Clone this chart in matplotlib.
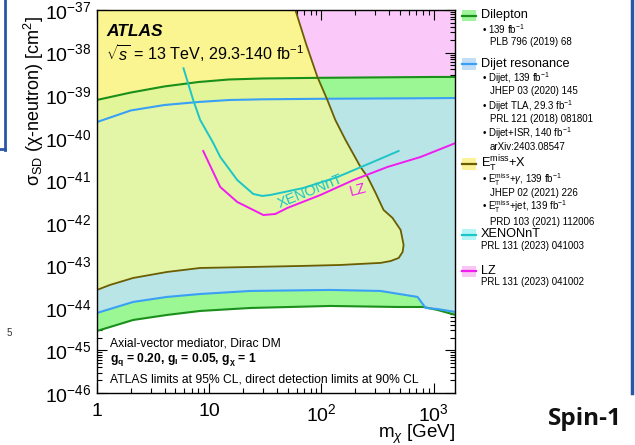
import numpy as np
import matplotlib
matplotlib.use("Agg")
import matplotlib.pyplot as plt
from matplotlib.patches import Polygon, Rectangle
from matplotlib.lines import Line2D
from matplotlib.ticker import LogLocator, NullFormatter

plt.rcParams["font.family"] = ["Liberation Sans", "DejaVu Sans"]
plt.rcParams["mathtext.fontset"] = "custom"
plt.rcParams["mathtext.rm"] = "Liberation Sans"
plt.rcParams["mathtext.it"] = "Liberation Sans:italic"
plt.rcParams["mathtext.bf"] = "Liberation Sans:bold"
plt.rcParams["mathtext.sf"] = "Liberation Sans"

# ---------------- limit curves (DM mass in GeV, sigma_SD in cm^2) ----------------
dilep_up_m = [1, 2, 4, 8, 15, 30, 100, 1000, 1550]
dilep_up_xs = [7.7e-40, 1.15e-39, 1.6e-39, 2.03e-39, 2.33e-39, 2.46e-39, 2.55e-39, 2.67e-39, 2.67e-39]

dilep_lo_m = [1, 2.1, 4.2, 8.3, 23.2, 120, 478, 812, 1085, 1571]
dilep_lo_xs = [2.87e-45, 5.2e-45, 6.82e-45, 8.47e-45, 9.95e-45, 1.11e-44, 1.05e-44, 1.05e-44, 8.93e-45, 6.82e-45]

dijet_up_m = [1, 2, 4, 8, 15, 30, 100, 1000, 1550]
dijet_up_xs = [2.33e-40, 4.36e-40, 5.86e-40, 6.89e-40, 7.67e-40, 7.97e-40, 8.2e-40, 8.47e-40, 8.55e-40]

dijet_lo_m = [1, 2.1, 4.2, 8.3, 23.2, 120, 335, 718, 848, 1085, 1571]
dijet_lo_xs = [7.6e-45, 1.38e-44, 1.81e-44, 2.12e-44, 2.5e-44, 2.64e-44, 2.5e-44, 1.81e-44, 9.95e-45, 9.4e-45, 8.0e-45]

met_m = [58.6, 73.5, 92.1, 113, 133, 164, 223, 258, 304, 358, 430, 508, 540,
         529, 488, 413, 336, 223, 148, 65, 23.2, 8.3, 4.2, 2.1, 1.3, 1.0]
met_xs = [1e-37, 1.51e-38, 2.67e-39, 7.67e-40, 2.6e-40, 8.81e-41, 2.05e-41, 1.19e-41,
          5.01e-42, 2.0e-42, 1.3e-42, 6.78e-43, 3.01e-43, 2.06e-43, 1.49e-43, 1.26e-43,
          1.14e-43, 1.08e-43, 1.02e-43, 9.66e-44, 9.14e-44, 8.67e-44, 6.98e-44, 5.05e-44,
          3.45e-44, 2.64e-44]

xenon_m = [5.9, 7.2, 8.31, 10.86, 12.54, 17.78, 24.7, 29.7, 35.1, 69.1, 139, 274, 487]
xenon_xs = [4.27e-39, 7.67e-40, 2.6e-40, 7.5e-41, 3.52e-41, 1.01e-41, 4.75e-42, 4.27e-42,
            4.5e-42, 6.57e-42, 1.19e-41, 2.54e-41, 4.86e-41]

lz_m = [8.84, 12.54, 17.78, 30.4, 38.8, 49.7, 98, 193, 388, 765, 1571]
lz_xs = [4.86e-41, 6.93e-42, 3.08e-42, 1.52e-42, 1.61e-42, 2.23e-42, 4.5e-42, 1.01e-41,
         2.05e-41, 3.52e-41, 7.5e-41]

xtick_vals = [1, 10, 100, 1000]
xtick_labels = ["1", "10", "$10^{2}$", "$10^{3}$"]

BULLET = "\u2022"
legend_entries = [
    ("Dilepton", [BULLET + " 139 fb$^{-1}$", "PLB 796 (2019) 68"]),
    ("Dijet resonance", [BULLET + " Dijet, 139 fb$^{-1}$", "JHEP 03 (2020) 145",
                         BULLET + " Dijet TLA, 29.3 fb$^{-1}$", "PRL 121 (2018) 081801",
                         BULLET + " Dijet+ISR, 140 fb$^{-1}$", "arXiv:2403.08547"]),
    (r"E$_{\rm T}^{\rm miss}$+X", [BULLET + r" E$_{\rm T}^{\rm miss}$+$\gamma$, 139 fb$^{-1}$",
                                   "JHEP 02 (2021) 226",
                                   BULLET + r" E$_{\rm T}^{\rm miss}$+jet, 139 fb$^{-1}$",
                                   "PRD 103 (2021) 112006"]),
    ("XENONnT", ["PRL 131 (2023) 041003"]),
    ("LZ", ["PRL 131 (2023) 041002"]),
]

# colours
pink_fill = "#fbc8fa"
green_fill = "#9af794"
blue_fill = "#b9e5e7"
yellow_fill = "#fbf591"
yellowgreen_fill = "#e2f598"
pale_fill = "#e3f5a6"
green_line = "#1a8f1a"
blue_line = "#3aa0f5"
olive_line = "#6b5e00"
cyan_line = "#1cc5c8"
magenta_line = "#f01cf0"

W, H = 635, 445
fig = plt.figure(figsize=(W / 100, H / 100), dpi=100)


def fpx(x, y):
    return x / W, 1 - y / H


ax = fig.add_axes([97 / W, 1 - 393 / H, (455 - 97) / W, (393 - 10) / H])
ax.set_xscale("log")
ax.set_yscale("log")
xmin, xmax = 1, 1550
ymin, ymax = 1e-46, 1e-37
ax.set_xlim(xmin, xmax)
ax.set_ylim(ymin, ymax)

# LZ excluded region above the collider bands
ax.fill_between(dilep_up_m, dilep_up_xs, ymax, color=pink_fill, lw=0, zorder=1)

# E_T^miss contour polygon (closed through the upper-left corner)
met_verts = list(zip(met_m, met_xs)) + [(xmin * 0.5, met_xs[-1]), (xmin * 0.5, ymax * 2), (met_m[0], ymax * 2)]
ax.add_patch(Polygon(met_verts, closed=True, facecolor="white", edgecolor="none", zorder=1.5))

# dilepton band
ax.fill(np.concatenate([dilep_up_m, dilep_lo_m[::-1]]),
        np.concatenate([dilep_up_xs, dilep_lo_xs[::-1]]),
        color=green_fill, lw=0, zorder=2)
# dijet band
ax.fill(np.concatenate([dijet_up_m, dijet_lo_m[::-1]]),
        np.concatenate([dijet_up_xs, dijet_lo_xs[::-1]]),
        color=blue_fill, lw=0, zorder=2.2)

# E_T^miss excluded region, shaded over the other bands
clip_poly = Polygon(met_verts, closed=True, transform=ax.transData)
zone_a = ax.fill_between(dilep_up_m, dilep_up_xs, ymax, color=yellow_fill, lw=0, zorder=2.5)
zone_b = ax.fill(np.concatenate([dilep_up_m, dijet_up_m[::-1]]),
                 np.concatenate([dilep_up_xs, dijet_up_xs[::-1]]),
                 color=yellowgreen_fill, lw=0, zorder=2.5)[0]
zone_c = ax.fill_between(dijet_up_m, ymin, dijet_up_xs, color=pale_fill, lw=0, zorder=2.5)
for art in (zone_a, zone_b, zone_c):
    art.set_clip_path(clip_poly)

# limit lines
ax.plot(dilep_up_m, dilep_up_xs, color=green_line, lw=1.5, zorder=4)
ax.plot(dilep_lo_m, dilep_lo_xs, color=green_line, lw=1.5, zorder=4)
ax.plot(dijet_up_m, dijet_up_xs, color=blue_line, lw=1.5, zorder=4.1)
ax.plot(dijet_lo_m, dijet_lo_xs, color=blue_line, lw=1.5, zorder=4.1)
ax.plot(met_m, met_xs, color=olive_line, lw=1.3, zorder=4.2)
ax.plot(xenon_m, xenon_xs, color=cyan_line, lw=1.4, zorder=4.3)
ax.plot(lz_m, lz_xs, color=magenta_line, lw=1.4, zorder=4.4)

# curve labels
fig.text(*fpx(310, 191), "XENONnT", color=cyan_line, fontsize=10.5, rotation=22,
         ha="center", va="center", zorder=5)
fig.text(*fpx(358, 190), "LZ", color=magenta_line, fontsize=10.5, rotation=15,
         ha="center", va="center", zorder=5)

# axes styling
ax.xaxis.set_minor_locator(LogLocator(base=10, subs=np.arange(2, 10) * 1.0, numticks=100))
ax.set_xticks(xtick_vals, labels=xtick_labels)
ax.xaxis.set_minor_formatter(NullFormatter())
ax.yaxis.set_major_locator(LogLocator(base=10, numticks=20))
ax.yaxis.set_minor_locator(LogLocator(base=10, subs=np.arange(2, 10) * 1.0, numticks=100))
ax.yaxis.set_minor_formatter(NullFormatter())
ax.tick_params(which="both", direction="in", top=True, right=True, width=0.8, labelsize=14)
ax.tick_params(which="major", length=7)
ax.tick_params(which="minor", length=3.5)
ax.tick_params(axis="y", pad=4)
ax.tick_params(axis="x", pad=7)
for sp in ax.spines.values():
    sp.set_linewidth(1.0)
    sp.set_zorder(6)

ax.set_ylabel("\u03c3$_{\\rm SD}$ (\u03c7-neutron) [cm$^{2}$]", fontsize=13, loc="top")
ax.yaxis.set_label_coords(-0.143, 0.985)
ax.set_xlabel("m$_{\u03c7}$ [GeV]", fontsize=13.5, loc="right")
ax.xaxis.set_label_coords(1.0, -0.077)

# ATLAS labels
fig.text(*fpx(106, 31), "ATLAS", fontsize=12.5, fontweight="bold", fontstyle="italic",
         ha="left", va="center")
fig.text(*fpx(106, 53), r"$\sqrt{s}$ = 13 TeV, 29.3-140 fb$^{-1}$", fontsize=11.6,
         ha="left", va="center")
fig.text(*fpx(110, 343), "Axial-vector mediator, Dirac DM", fontsize=8.7, ha="left", va="center")
fig.text(*fpx(110, 360), "g$_\\mathbf{q}$ = 0.20, g$_\\mathbf{l}$ = 0.05, g$_\\mathbf{\u03c7}$ = 1",
         fontsize=8.7, fontweight="bold", ha="left", va="center")
fig.text(*fpx(110, 380), "ATLAS limits at 95% CL, direct detection limits at 90% CL",
         fontsize=8.7, ha="left", va="center")

# legend panel
legend_styles = [
    ("#a0f59c", green_line, 15.5, [29, 42], [482, 490]),
    ("#c3ddf5", blue_line, 64, [78, 91, 106, 119, 133, 147], [482, 490, 482, 490, 482, 490]),
    ("#faf39a", olive_line, 164, [180, 193, 207, 222], [482, 490, 482, 490]),
    ("#b5f5f5", cyan_line, 234.5, [246], [481]),
    ("#f8c6f5", magenta_line, 271, [282], [481]),
]
for (title, lines), (pfill, pline, yc, ys, xs) in zip(legend_entries, legend_styles):
    x0, y0 = fpx(462, yc + 5.5)
    fig.add_artist(Rectangle((x0, y0), 14 / W, 11 / H, transform=fig.transFigure,
                             facecolor=pfill, edgecolor="none"))
    fig.add_artist(Line2D([462 / W, 476 / W], [1 - yc / H] * 2, transform=fig.transFigure,
                          color=pline, lw=1.6))
    fig.text(*fpx(481, yc - 0.5), title, fontsize=9.2, ha="left", va="center")
    for s, yy, xx in zip(lines, ys, xs):
        fig.text(*fpx(xx, yy), s, fontsize=7.0, ha="left", va="center")

# slide decorations
deco = "#2a56a8"
fig.add_artist(Line2D([5 / W, 5 / W], [1, 1 - 150 / H], transform=fig.transFigure, color=deco, lw=2))
fig.add_artist(Line2D([0, 5 / W], [1 - 149 / H] * 2, transform=fig.transFigure, color=deco, lw=2))
fig.add_artist(Line2D([632 / W, 632 / W], [1, 1 - 393 / H], transform=fig.transFigure, color=deco, lw=2.5))
fig.text(*fpx(9, 333), "5", fontsize=7, ha="center", va="center", color="#333333")
fig.text(*fpx(585, 419), "Spin-1", fontsize=17.5, fontweight="bold", family=["Open Sans", "DejaVu Sans"],
         ha="center", va="center", color="#111111")

fig.savefig("out.png", dpi=100)
